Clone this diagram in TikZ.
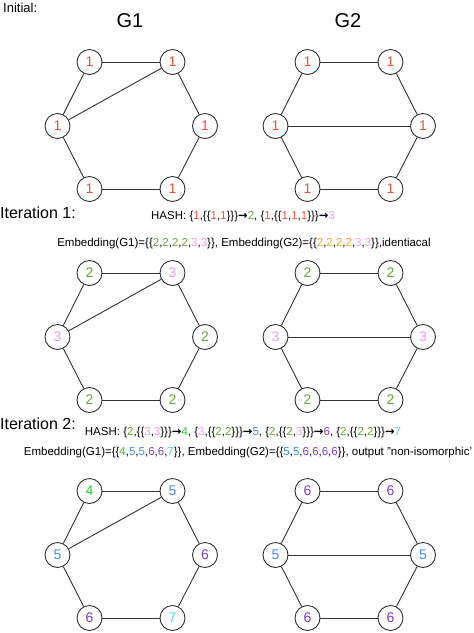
\documentclass[tikz,border=0pt]{standalone}
\usepackage{fontspec}
\setmainfont{Liberation Sans}
\newfontfamily\djv{DejaVu Sans}
\usetikzlibrary{backgrounds}
\definecolor{ca}{HTML}{E8553F}
\definecolor{cb}{HTML}{6BA539}
\definecolor{cc}{HTML}{EE9FEE}
\definecolor{co}{HTML}{F2A33A}
\definecolor{cd}{HTML}{2FCC2F}
\definecolor{ce}{HTML}{3F8FE8}
\definecolor{cf}{HTML}{7B3FC9}
\definecolor{cg}{HTML}{4FD6F2}
\newcommand\ka[1]{\textcolor{ca}{#1}}
\newcommand\kb[1]{\textcolor{cb}{#1}}
\newcommand\kc[1]{\textcolor{cc}{#1}}
\newcommand\ko[1]{\textcolor{co}{#1}}
\newcommand\kd[1]{\textcolor{cd}{#1}}
\newcommand\ke[1]{\textcolor{ce}{#1}}
\newcommand\kf[1]{\textcolor{cf}{#1}}
\newcommand\kg[1]{\textcolor{cg}{#1}}
\newcommand\arr{{\djv\bfseries →}}
\tikzset{
  vtx/.style={circle,draw=black!80,line width=0.9pt,minimum size=25pt,inner sep=0pt,fill=white,font=\fontsize{14}{14}\selectfont},
  edg/.style={draw=black!80,line width=0.9pt},
  lbl/.style={inner sep=0pt,font=\fontsize{16}{16}\selectfont},
  txt/.style={inner sep=0pt,font=\fontsize{11.5}{12}\selectfont}
}
% #1 prefix, #2 x of TL, #3 y top, #4..#9 labels TL TR L R BL BR
\newcommand\hexg[9]{%
  \node[vtx] (#1tl) at (#2,#3) {#4};
  \node[vtx] (#1tr) at ({#2+83},#3) {#5};
  \node[vtx] (#1l) at ({#2-32},{#3+64}) {#6};
  \node[vtx] (#1r) at ({#2+115.5},{#3+64}) {#7};
  \node[vtx] (#1bl) at (#2,{#3+127}) {#8};
  \node[vtx] (#1br) at ({#2+83},{#3+127}) {#9};
  \draw[edg] (#1tl) -- (#1tr);
  \draw[edg] (#1tr) -- (#1r);
  \draw[edg] (#1r) -- (#1br);
  \draw[edg] (#1br) -- (#1bl);
  \draw[edg] (#1bl) -- (#1l);
  \draw[edg] (#1l) -- (#1tl);
}
\begin{document}
\begin{tikzpicture}[x=1pt,y=-1pt]
\useasboundingbox (0,0) rectangle (474,633);
\node[lbl,anchor=west,font=\fontsize{13}{13}\selectfont] (init) at (3,8) {Initial:};
\node[lbl,font=\fontsize{20}{20}\selectfont] (g1) at (130,21) {G1};
\node[lbl,font=\fontsize{20}{20}\selectfont] (g2) at (348,21) {G2};
% Initial
\hexg{a}{89.5}{62}{\ka1}{\ka1}{\ka1}{\ka1}{\ka1}{\ka1}
\draw[edg] (al) -- (atr);
\hexg{b}{307.5}{62}{\ka1}{\ka1}{\ka1}{\ka1}{\ka1}{\ka1}
\draw[edg] (bl) -- (br);
% Iteration 1
\node[lbl,anchor=west] (it1) at (0,213) {Iteration 1:};
\node[txt] (h1) at (243,217) {HASH: \{\ka1,\{\{\ka1,\ka1\}\}\}\arr\kb2, \{\ka1,\{\{\ka1,\ka1,\ka1\}\}\}\arr\kc3};
\node[txt] (e1) at (244,244) {Embedding(G1)=\{\{\kb2,\kb2,\kb2,\kb2,\kc3,\kc3\}\}, Embedding(G2)=\{\{\ko2,\ko2,\ko2,\ko2,\kc3,\kc3\}\},identiacal};
\hexg{c}{89.5}{273}{\kb2}{\kc3}{\kc3}{\kb2}{\kb2}{\kb2}
\draw[edg] (cl) -- (ctr);
\hexg{d}{307.5}{273}{\kb2}{\kb2}{\kc3}{\kc3}{\kb2}{\kb2}
\draw[edg] (dl) -- (dr);
% Iteration 2
\node[lbl,anchor=west] (it2) at (0,424) {Iteration 2:};
\node[txt] (h2) at (243,433) {HASH: \{\kb2,\{\{\kc3,\kc3\}\}\}\arr\kd4, \{\kc3,\{\{\kb2,\kb2\}\}\}\arr\ke5, \{\kb2,\{\{\kb2,\kc3\}\}\}\arr\kf6, \{\kb2,\{\{\kb2,\kb2\}\}\}\arr\kg7};
\node[txt] (e2) at (248,453) {Embedding(G1)=\{\{\kd4,\ke5,\ke5,\kf6,\kf6,\kg7\}\}, Embedding(G2)=\{\{\ke5,\ke5,\kf6,\kf6,\kf6,\kf6\}\}, output "non-isomorphic'};
\hexg{e}{89.5}{491}{\kd4}{\ke5}{\ke5}{\kf6}{\kf6}{\kg7}
\draw[edg] (el) -- (etr);
\hexg{f}{307.5}{491}{\kf6}{\kf6}{\ke5}{\ke5}{\kf6}{\kf6}
\draw[edg] (fl) -- (fr);
\end{tikzpicture}
\end{document}
